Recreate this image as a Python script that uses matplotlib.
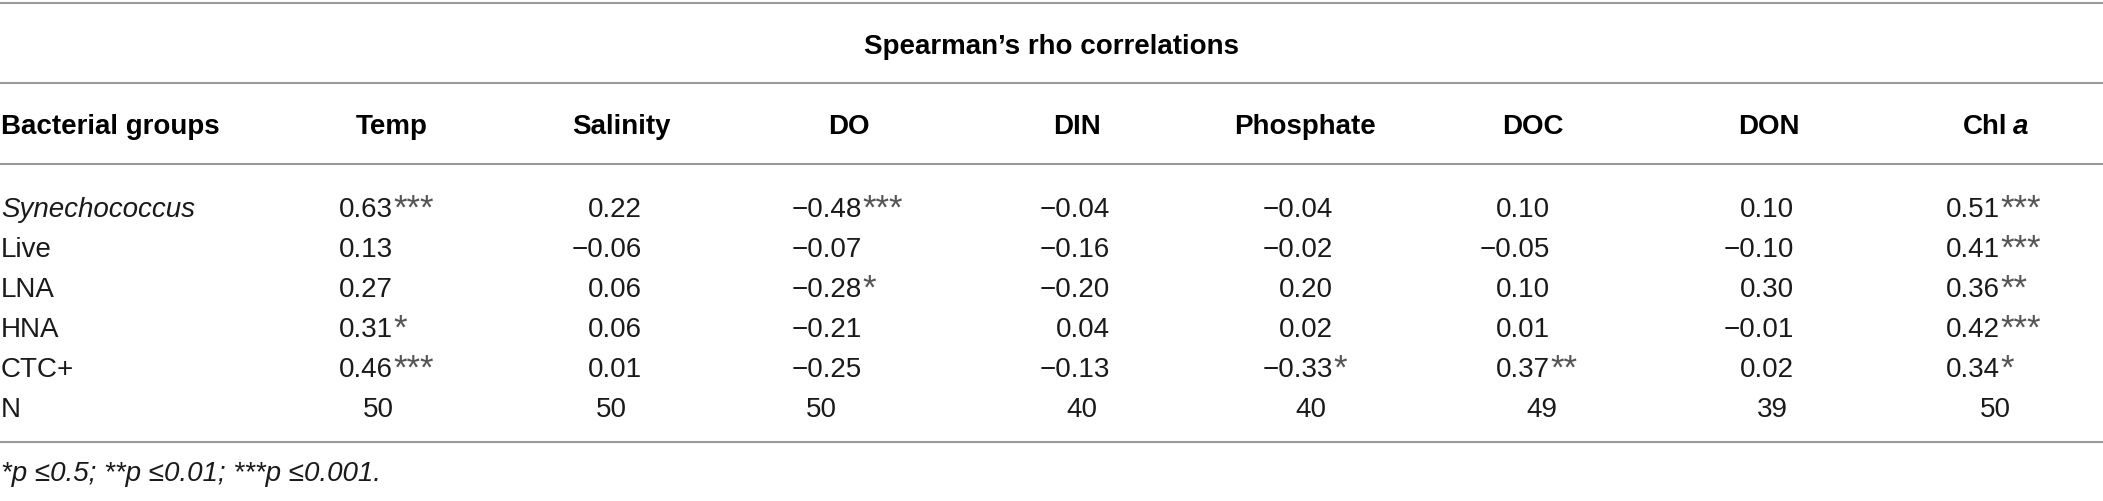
import matplotlib
matplotlib.use("Agg")
import matplotlib.pyplot as plt

# table content
title = "Spearman\u2019s rho correlations"
row_header = "Bacterial groups"
columns = ["Temp", "Salinity", "DO", "DIN", "Phosphate", "DOC", "DON", "Chl a"]
groups = ["Synechococcus", "Live", "LNA", "HNA", "CTC+"]

temp = [0.63, 0.13, 0.27, 0.31, 0.46]
salinity = [0.22, -0.06, 0.06, 0.06, 0.01]
do = [-0.48, -0.07, -0.28, -0.21, -0.25]
din = [-0.04, -0.16, -0.20, 0.04, -0.13]
phosphate = [-0.04, -0.02, 0.20, 0.02, -0.33]
doc = [0.10, -0.05, 0.10, 0.01, 0.37]
don = [0.10, -0.10, 0.30, -0.01, 0.02]
chl_a = [0.51, 0.41, 0.36, 0.42, 0.34]

temp_sig = ["***", "", "", "*", "***"]
salinity_sig = ["", "", "", "", ""]
do_sig = ["***", "", "*", "", ""]
din_sig = ["", "", "", "", ""]
phosphate_sig = ["", "", "", "", "*"]
doc_sig = ["", "", "", "", "**"]
don_sig = ["", "", "", "", ""]
chl_a_sig = ["***", "***", "**", "***", "*"]

n_obs = [50, 50, 50, 40, 40, 49, 39, 50]
footnote = "*p \u22640.5; **p \u22640.01; ***p \u22640.001."

values = [temp, salinity, do, din, phosphate, doc, don, chl_a]
stars = [temp_sig, salinity_sig, do_sig, din_sig, phosphate_sig, doc_sig, don_sig, chl_a_sig]

# layout (pixels)
W, H = 2103, 502
head_x = [392, 621, 849, 1077, 1305, 1533, 1769, 1995]
num_right = [393, 642, 862, 1110, 1333, 1550, 1794, 2000]
n_x = [378, 611, 821, 1082, 1311, 1542, 1772, 1995]
row_y = [217, 257, 297, 337, 377]
n_y = 417
rules = [4, 84, 165, 443]

fam = ["Liberation Sans", "DejaVu Sans"]
fs = 20
ink = "#1a1a1a"

fig = plt.figure(figsize=(W / 100, H / 100), dpi=100)
ax = fig.add_axes([0, 0, 1, 1])
ax.set_xlim(0, W)
ax.set_ylim(H, 0)
ax.axis("off")

for y in rules:
    ax.plot([0, W], [y, y], color="#9a9a9a", lw=1.5, solid_capstyle="butt")

ax.text(1051, 54, title, ha="center", va="baseline", fontsize=fs,
        fontweight="bold", family=fam, color="black")

ax.text(1, 134, row_header, ha="left", va="baseline", fontsize=fs,
        fontweight="bold", family=fam, color="black")
for x, name in zip(head_x, columns):
    if name == "Chl a":
        ax.text(x + 12, 134, "Chl", ha="right", va="baseline", fontsize=fs,
                fontweight="bold", family=fam, color="black")
        ax.text(x + 18, 134, "a", ha="left", va="baseline", fontsize=fs,
                fontweight="bold", fontstyle="italic", family=fam, color="black")
    else:
        ax.text(x, 134, name, ha="center", va="baseline", fontsize=fs,
                fontweight="bold", family=fam, color="black")

for i, (g, y) in enumerate(zip(groups, row_y)):
    ax.text(1, y, g, ha="left", va="baseline", fontsize=fs, family=fam,
            color=ink, fontstyle="italic" if i == 0 else "normal")
    for xr, col, sig in zip(num_right, values, stars):
        v = col[i]
        s = ("\u2212" if v < 0 else "") + f"{abs(v):.2f}"
        ax.text(xr, y, s, ha="right", va="baseline", fontsize=fs,
                family=fam, color=ink)
        if sig[i]:
            ax.text(xr, y + 2, sig[i], ha="left", va="baseline", fontsize=25,
                    family=fam, color="#555555")

ax.text(1, n_y, "N", ha="left", va="baseline", fontsize=fs, family=fam, color=ink)
for x, n in zip(n_x, n_obs):
    ax.text(x, n_y, str(n), ha="center", va="baseline", fontsize=fs,
            family=fam, color=ink)

ax.text(1, 481, footnote, ha="left", va="baseline", fontsize=fs,
        fontstyle="italic", family=fam, color=ink)

fig.savefig("out.png", dpi=100)
